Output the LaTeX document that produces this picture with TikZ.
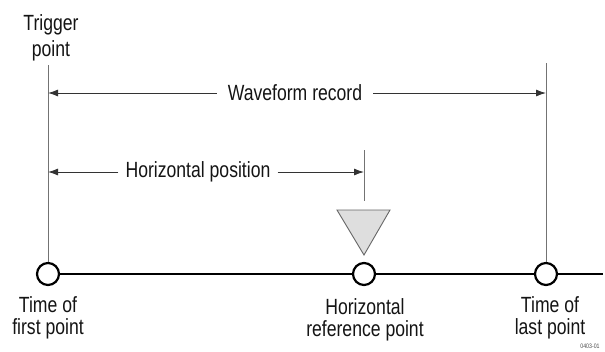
\documentclass[tikz,border=0pt]{standalone}
\usepackage{fontspec}
\setmainfont[FakeStretch=0.8]{Liberation Sans}
\usetikzlibrary{arrows.meta}
\begin{document}
\begin{tikzpicture}[x=1pt,y=-1pt,
  lbl/.style={text=black!92, font=\fontsize{22}{22}\selectfont, align=center, inner sep=0pt},
  dimlbl/.style={text=black!92, font=\fontsize{22}{22}\selectfont, inner ysep=0pt, anchor=center},
  dimarrow/.style={draw=black!80, line width=0.9pt, -{Latex[length=10pt,width=7pt]}},
  guide/.style={draw=black!55, line width=0.8pt},
  pt/.style={circle, draw=black, line width=2.2pt, fill=white, minimum size=22pt, inner sep=0pt},
  axis/.style={draw=black, line width=2.4pt}]
\useasboundingbox (0,0) rectangle (605,351);
% time axis
\coordinate (axend) at (603,274);
\node[pt] (c1) at (48,274) {};
\node[pt] (c2) at (364,274) {};
\node[pt] (c3) at (546,274) {};
\draw[axis] (c1) -- (c2);
\draw[axis] (c2) -- (c3);
\draw[axis] (c3) -- (axend);
% guides
\coordinate (t1) at (48,65);
\coordinate (t3) at (546,63);
\coordinate (m1) at (364,150);
\coordinate (m2) at (364,201);
\draw[guide] (t1) -- (c1.north);
\draw[guide] (t3) -- (c3.north);
\draw[guide] (m1) -- (m2);
% waveform record
\coordinate (wl) at (48,93);
\coordinate (wr) at (546,93);
\node[dimlbl, inner xsep=11pt] (wf) at (295,93) {Waveform record};
\draw[dimarrow] (wf) -- (wl);
\draw[dimarrow] (wf) -- (wr);
% horizontal position
\coordinate (hl) at (48,172);
\coordinate (hr) at (364,172);
\node[dimlbl, inner xsep=7pt] (hp) at (198,172) {Horizontal position};
\draw[dimarrow] (hp) -- (hl);
\draw[dimarrow] (hp) -- (hr);
% reference triangle
\coordinate (ta) at (337,210);
\coordinate (tb) at (390,210);
\coordinate (tc) at (364,255);
\draw[draw=black!60, fill=black!13, line width=0.9pt, line join=miter] (ta) -- (tb) -- (tc) -- cycle;
% labels
\node[lbl, font=\fontsize{22}{26}\selectfont] (trig) at (51,38) {Trigger\\point};
\node[lbl] (l1) at (48,318) {Time of\\first point};
\node[lbl] (l2) at (365,320) {Horizontal\\reference point};
\node[lbl] (l3) at (550,318) {Time of\\last point};
\node[text=black!70, font=\fontsize{6.5}{7}\selectfont, inner sep=0pt] (code) at (590,346) {0403-01};
\end{tikzpicture}
\end{document}
